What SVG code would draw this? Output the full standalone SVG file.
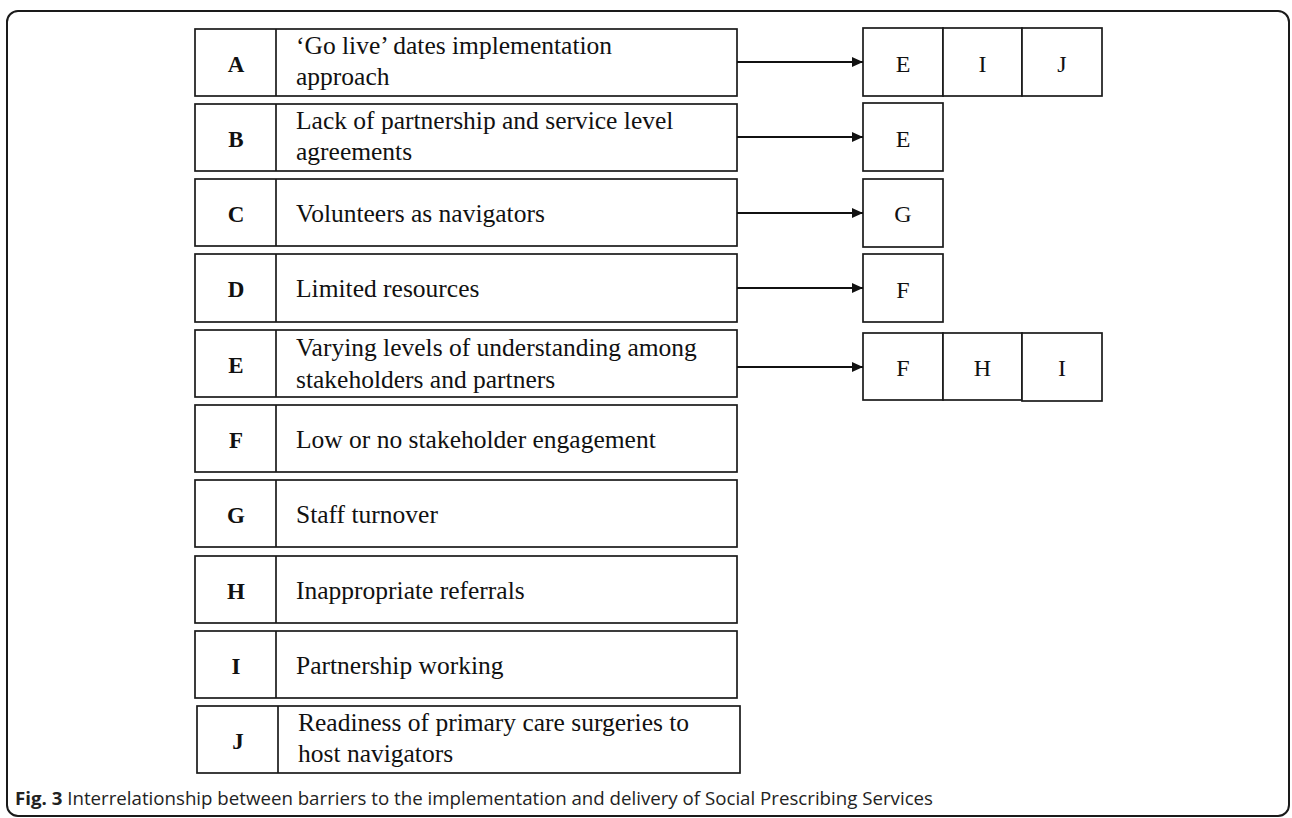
<svg xmlns="http://www.w3.org/2000/svg" width="1292" height="818" viewBox="0 0 1292 818">
<defs>
<style>
.box{fill:#fff;stroke:#1a1a1a;stroke-width:1.7}
.lbl{font-family:"Liberation Serif","Times New Roman",serif;font-size:23px;font-weight:bold;fill:#111;text-anchor:middle}
.txt{font-family:"Liberation Serif","Times New Roman",serif;font-size:25.5px;fill:#111}
.rl{font-family:"Liberation Serif","Times New Roman",serif;font-size:24px;fill:#111;text-anchor:middle}
.con{stroke:#111;stroke-width:2.2;fill:none}
.cap{font-family:"Open Sans","Liberation Sans",sans-serif;font-size:18.5px;fill:#222}
</style>
<marker id="ah" markerWidth="11" markerHeight="10" refX="11" refY="5" orient="auto" markerUnits="userSpaceOnUse">
<path d="M0,0 L11,5 L0,10 Z" fill="#111"/>
</marker>
</defs>
<rect x="7" y="11" width="1282" height="805" rx="11" fill="#fff" stroke="#1a1a1a" stroke-width="2"/>

<g id="nodeA"><rect class="box" x="195" y="29" width="542" height="67"/><line class="box" x1="276" y1="29" x2="276" y2="96"/><text class="lbl" x="236" y="72">A</text><text class="txt" x="296" y="54">‘Go live’ dates implementation</text><text class="txt" x="296" y="85">approach</text></g>
<g id="nodeB"><rect class="box" x="195" y="104" width="542" height="67"/><line class="box" x1="276" y1="104" x2="276" y2="171"/><text class="lbl" x="236" y="147">B</text><text class="txt" x="296" y="129">Lack of partnership and service level</text><text class="txt" x="296" y="160">agreements</text></g>
<g id="nodeC"><rect class="box" x="195" y="179" width="542" height="67"/><line class="box" x1="276" y1="179" x2="276" y2="246"/><text class="lbl" x="236" y="222">C</text><text class="txt" x="296" y="222">Volunteers as navigators</text></g>
<g id="nodeD"><rect class="box" x="195" y="254" width="542" height="68"/><line class="box" x1="276" y1="254" x2="276" y2="322"/><text class="lbl" x="236" y="297">D</text><text class="txt" x="296" y="297">Limited resources</text></g>
<g id="nodeE"><rect class="box" x="195" y="330" width="542" height="67"/><line class="box" x1="276" y1="330" x2="276" y2="397"/><text class="lbl" x="236" y="373">E</text><text class="txt" x="296" y="356">Varying levels of understanding among</text><text class="txt" x="296" y="388">stakeholders and partners</text></g>
<g id="nodeF"><rect class="box" x="195" y="405" width="542" height="67"/><line class="box" x1="276" y1="405" x2="276" y2="472"/><text class="lbl" x="236" y="448">F</text><text class="txt" x="296" y="448">Low or no stakeholder engagement</text></g>
<g id="nodeG"><rect class="box" x="195" y="480" width="542" height="67"/><line class="box" x1="276" y1="480" x2="276" y2="547"/><text class="lbl" x="236" y="523">G</text><text class="txt" x="296" y="523">Staff turnover</text></g>
<g id="nodeH"><rect class="box" x="195" y="556" width="542" height="67"/><line class="box" x1="276" y1="556" x2="276" y2="623"/><text class="lbl" x="236" y="599">H</text><text class="txt" x="296" y="599">Inappropriate referrals</text></g>
<g id="nodeI"><rect class="box" x="195" y="631" width="542" height="67"/><line class="box" x1="276" y1="631" x2="276" y2="698"/><text class="lbl" x="236" y="674">I</text><text class="txt" x="296" y="674">Partnership working</text></g>
<g id="nodeJ"><rect class="box" x="197" y="706" width="543" height="67"/><line class="box" x1="278" y1="706" x2="278" y2="773"/><text class="lbl" x="238" y="749">J</text><text class="txt" x="298" y="731">Readiness of primary care surgeries to</text><text class="txt" x="298" y="762">host navigators</text></g>

<g id="targetsA"><rect class="box" x="863" y="28" width="80" height="68"/><rect class="box" x="943" y="28" width="79" height="68"/><rect class="box" x="1022" y="28" width="80" height="68"/><text class="rl" x="903" y="72">E</text><text class="rl" x="982.5" y="72">I</text><text class="rl" x="1062" y="72">J</text></g>
<g id="targetsB"><rect class="box" x="863" y="103" width="80" height="68"/><text class="rl" x="903" y="147">E</text></g>
<g id="targetsC"><rect class="box" x="863" y="179" width="80" height="68"/><text class="rl" x="903" y="222">G</text></g>
<g id="targetsD"><rect class="box" x="863" y="254" width="80" height="68"/><text class="rl" x="903" y="298">F</text></g>
<g id="targetsE"><rect class="box" x="863" y="333" width="80" height="67"/><rect class="box" x="943" y="333" width="79" height="67"/><rect class="box" x="1022" y="333" width="80" height="68"/><text class="rl" x="903" y="376">F</text><text class="rl" x="982.5" y="376">H</text><text class="rl" x="1062" y="376">I</text></g>

<g id="connectors">
<line class="con" x1="737" y1="62" x2="863" y2="62" marker-end="url(#ah)"/>
<line class="con" x1="737" y1="137" x2="863" y2="137" marker-end="url(#ah)"/>
<line class="con" x1="737" y1="213" x2="863" y2="213" marker-end="url(#ah)"/>
<line class="con" x1="737" y1="288" x2="863" y2="288" marker-end="url(#ah)"/>
<line class="con" x1="737" y1="367" x2="863" y2="367" marker-end="url(#ah)"/>
</g>

<text class="cap" x="15" y="805" textLength="918" lengthAdjust="spacingAndGlyphs"><tspan font-weight="bold">Fig. 3</tspan> Interrelationship between barriers to the implementation and delivery of Social Prescribing Services</text>
</svg>
